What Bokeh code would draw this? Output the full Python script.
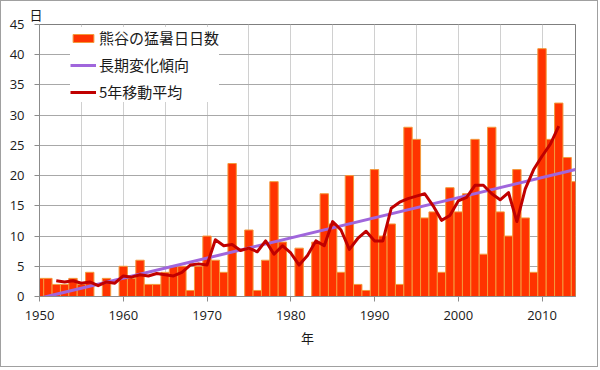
from bokeh.plotting import figure
from bokeh.models import (Range1d, SingleIntervalTicker, Legend, LegendItem,
                          ColumnDataSource)
from bokeh.embed import file_html
from bokeh.resources import INLINE

# ---- data -------------------------------------------------------------
years = list(range(1950, 2015))
days = [3, 3, 2, 2, 3, 2, 4, 0, 3, 0,
        5, 3, 6, 2, 2, 4, 5, 5, 1, 5,
        10, 6, 4, 22, 0, 11, 1, 6, 19, 9,
        0, 8, 0, 9, 17, 12, 4, 20, 2, 1,
        21, 10, 12, 2, 28, 26, 13, 14, 4, 18,
        14, 17, 26, 7, 28, 14, 10, 21, 13, 4,
        41, 26, 32, 23, 19]

ma_years = list(range(1952, 2013))
ma_values = [2.6, 2.4, 2.6, 2.2, 2.4, 1.8, 2.4, 2.2,
             3.4, 3.2, 3.6, 3.4, 3.8, 3.6, 3.4, 4.0, 5.2, 5.4,
             5.2, 9.4, 8.4, 8.6, 7.6, 8.0, 7.4, 9.2, 7.0, 8.4,
             7.2, 5.2, 6.8, 9.2, 8.4, 12.4, 11.0, 7.8, 9.6, 10.8,
             9.2, 9.2, 14.6, 15.6, 16.2, 16.6, 17.0, 15.0, 12.6, 13.4,
             15.8, 16.4, 18.4, 18.4, 17.0, 16.0, 17.2, 12.4, 17.8, 21.0,
             23.2, 25.2, 28.2]

trend_years = [1950, 2014]
trend_values = [-0.3, 21.0]

legend_labels = ["熊谷の猛暑日日数", "長期変化傾向", "5年移動平均"]
x_title = "年"
y_title = "日"

# ---- figure -----------------------------------------------------------
p = figure(width=598, height=367,
           x_range=Range1d(1950, 2014), y_range=Range1d(0, 45),
           output_backend="svg", toolbar_location=None,
           min_border_left=38, min_border_right=24,
           min_border_top=18, min_border_bottom=72)
p.styles = {"border": "1px solid #a0a0a0"}
p.background_fill_color = "white"
p.border_fill_color = "white"
p.outline_line_color = "#7f7f7f"

# y unit shown above the axis as the title
p.title.text = y_title
p.title.align = "left"
p.title.offset = -10
p.title.standoff = 2
p.title.text_font = "Noto Sans CJK JP"
p.title.text_font_size = "13px"
p.title.text_font_style = "normal"
p.title.text_color = "#1a1a1a"

bar_src = ColumnDataSource(dict(year=years, days=days))
bars = p.vbar(x="year", top="days", width=1, source=bar_src,
              fill_color="#ff3300", line_color="#f39a3c", line_width=1)

trend = p.line(trend_years, trend_values, line_color="#a066dc", line_width=3)
ma = p.line(ma_years, ma_values, line_color="#c00000", line_width=3,
            line_join="round")

# axes & grids
p.xaxis.ticker = SingleIntervalTicker(interval=10, num_minor_ticks=0)
p.yaxis.ticker = SingleIntervalTicker(interval=5, num_minor_ticks=0)
p.xgrid.ticker = SingleIntervalTicker(interval=5)
p.ygrid.ticker = SingleIntervalTicker(interval=5)
p.xgrid.grid_line_color = "#d0d0d0"
p.ygrid.grid_line_color = "#a8a8a8"

for ax in (p.xaxis[0], p.yaxis[0]):
    ax.axis_line_color = "#8c8c8c"
    ax.major_tick_line_color = "#8c8c8c"
    ax.major_tick_out = 5
    ax.major_tick_in = 0
    ax.minor_tick_line_color = None
    ax.major_label_text_font = "Open Sans"
    ax.major_label_text_font_size = "13px"
    ax.major_label_text_color = "#1a1a1a"
p.xaxis.major_label_standoff = 9
p.yaxis.major_label_standoff = 10

p.xaxis.axis_label = x_title
p.xaxis.axis_label_standoff = 5
p.xaxis.axis_label_text_font = "Noto Sans CJK JP"
p.xaxis.axis_label_text_font_size = "13px"
p.xaxis.axis_label_text_font_style = "normal"
p.xaxis.axis_label_text_color = "#1a1a1a"

legend = Legend(items=[LegendItem(label=legend_labels[0], renderers=[bars]),
                       LegendItem(label=legend_labels[1], renderers=[trend]),
                       LegendItem(label=legend_labels[2], renderers=[ma])],
                location=(31, 194))
legend.background_fill_color = "white"
legend.background_fill_alpha = 1.0
legend.border_line_color = None
legend.padding = 6
legend.margin = 0
legend.spacing = 6
legend.label_height = 20
legend.glyph_height = 10
legend.glyph_width = 26
legend.label_standoff = 3
legend.label_text_font = "Noto Sans CJK JP"
legend.label_text_font_size = "15px"
legend.label_text_color = "#1a1a1a"
p.add_layout(legend)

open("out.html", "w").write(file_html(p, INLINE))
